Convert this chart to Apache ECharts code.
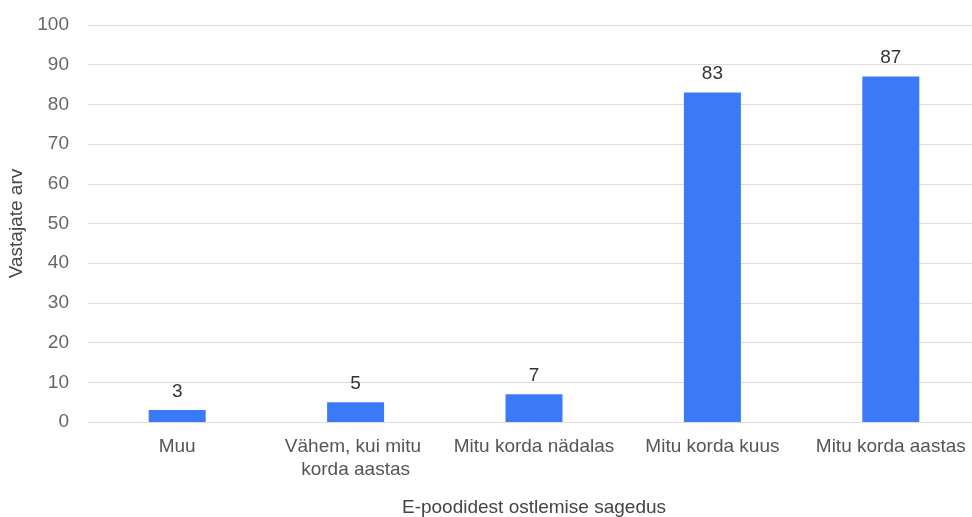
<!DOCTYPE html>
<html>
<head>
<meta charset="utf-8">
<script src="https://cdn.jsdelivr.net/npm/echarts@6/dist/echarts.min.js"></script>
<style>
  html, body { margin: 0; padding: 0; background: #fff; }
  #chart { width: 972px; height: 517px; }
</style>
</head>
<body>
<div id="chart"></div>
<script>
// Shopping frequency categories and respondent counts
const categories = ['Muu', 'Vähem, kui mitu korda aastas', 'Mitu korda nädalas', 'Mitu korda kuus', 'Mitu korda aastas'];
const counts = [3, 5, 7, 83, 87];
const yTicks = [0, 10, 20, 30, 40, 50, 60, 70, 80, 90, 100];

const fontFamily = 'Arial, "Liberation Sans", Helvetica, sans-serif';
const chart = echarts.init(document.getElementById('chart'), null, { renderer: 'canvas' });

chart.setOption({
  animation: false,
  textStyle: { fontFamily: fontFamily },
  grid: {
    left: 88, right: -8, top: 25, bottom: 95,
    containLabel: false,
    outerBoundsMode: 'none'
  },
  xAxis: {
    type: 'category',
    data: categories,
    name: 'E-poodidest ostlemise sagedus',
    nameLocation: 'middle',
    nameGap: 76,
    nameTextStyle: { fontSize: 19, color: '#444', fontFamily: fontFamily },
    axisLine: { show: false },
    axisTick: { show: false },
    axisLabel: {
      fontSize: 19,
      color: '#555',
      margin: 13,
      width: 182,
      overflow: 'break',
      lineHeight: 23,
      interval: 0,
      fontFamily: fontFamily
    }
  },
  yAxis: {
    type: 'value',
    min: yTicks[0],
    max: yTicks[yTicks.length - 1],
    interval: 10,
    name: 'Vastajate arv',
    nameLocation: 'middle',
    nameGap: 60,
    nameRotate: 90,
    nameTextStyle: { fontSize: 19, color: '#444', fontFamily: fontFamily },
    axisLine: { show: false },
    axisTick: { show: false },
    axisLabel: { fontSize: 19, color: '#666', margin: 19, fontFamily: fontFamily },
    splitLine: { lineStyle: { color: '#dcdcdc', width: 1 } }
  },
  series: [{
    type: 'bar',
    data: counts,
    barWidth: 57,
    itemStyle: { color: '#3b7af7' },
    label: {
      show: true,
      position: 'top',
      distance: 9,
      fontSize: 19,
      color: '#333',
      fontFamily: fontFamily
    }
  }]
});
</script>
</body>
</html>
